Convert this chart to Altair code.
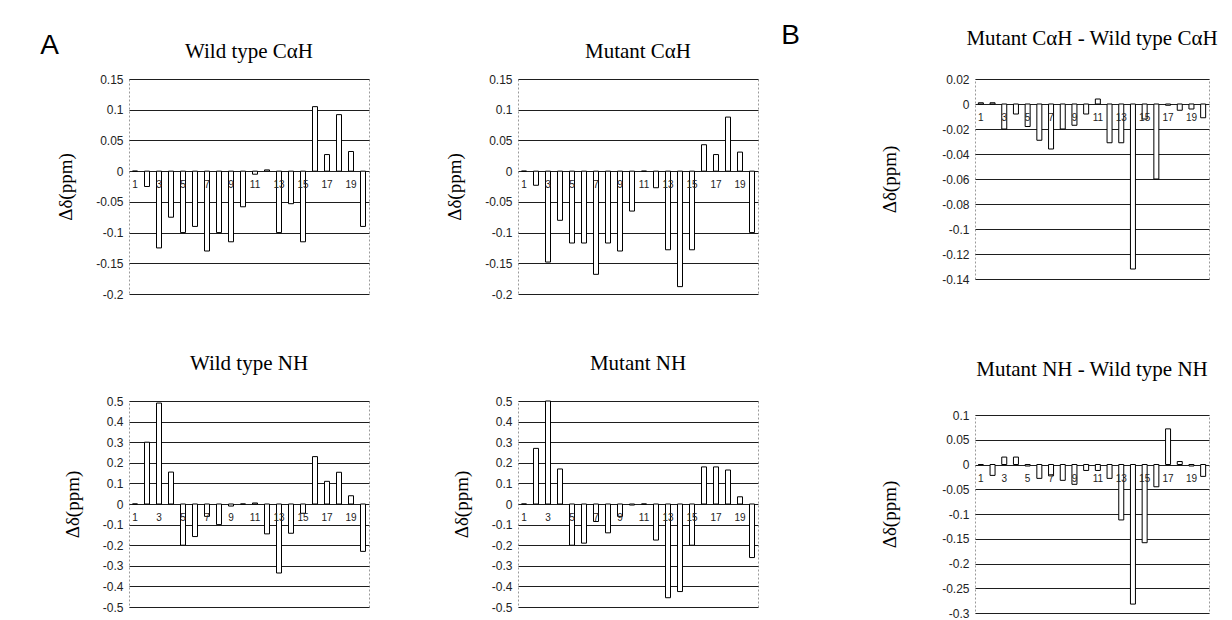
import altair as alt
import pandas as pd

# ---------------- data ----------------
residues = list(range(1, 21))
label_residues = [1, 3, 5, 7, 9, 11, 13, 15, 17, 19]

wt_cah = [0.0, -0.025, -0.125, -0.075, -0.1, -0.09, -0.13, -0.1, -0.115, -0.058,
          -0.005, 0.002, -0.1, -0.053, -0.115, 0.105, 0.027, 0.092, 0.032, -0.09]
mut_cah = [0.0, -0.023, -0.148, -0.08, -0.117, -0.117, -0.168, -0.117, -0.13, -0.065,
           0.0, -0.027, -0.128, -0.188, -0.128, 0.043, 0.027, 0.088, 0.031, -0.1]
diff_cah = [0.001, 0.001, -0.02, -0.008, -0.018, -0.029, -0.036, -0.02, -0.017, -0.008,
            0.004, -0.031, -0.031, -0.132, -0.012, -0.06, -0.001, -0.005, -0.004, -0.011]
wt_nh = [0.0, 0.3, 0.49, 0.155, -0.2, -0.158, -0.06, -0.1, -0.01, 0.0,
         0.005, -0.145, -0.335, -0.142, -0.045, 0.23, 0.11, 0.154, 0.04, -0.23]
mut_nh = [0.0, 0.27, 0.5, 0.17, -0.2, -0.19, -0.085, -0.14, -0.06, -0.005,
          0.0, -0.175, -0.455, -0.425, -0.2, 0.18, 0.18, 0.165, 0.035, -0.26]
diff_nh = [0.0, -0.022, 0.015, 0.015, -0.003, -0.028, -0.023, -0.032, -0.04, -0.012,
           -0.012, -0.028, -0.112, -0.282, -0.158, -0.045, 0.072, 0.006, -0.003, -0.024]

ticks_cah = [0.15, 0.1, 0.05, 0, -0.05, -0.1, -0.15, -0.2]
ticks_nh = [0.5, 0.4, 0.3, 0.2, 0.1, 0, -0.1, -0.2, -0.3, -0.4, -0.5]
ticks_diff_cah = [0.02, 0, -0.02, -0.04, -0.06, -0.08, -0.1, -0.12, -0.14]
ticks_diff_nh = [0.1, 0.05, 0, -0.05, -0.1, -0.15, -0.2, -0.25, -0.3]

y_title = "Δδ(ppm)"
SERIF = "Liberation Serif"
SANS = "Liberation Sans"


def panel(title, values, ticks, width, height, title_offset, title_dy, title_pad):
    df = pd.DataFrame({"res": residues, "shift": values})
    lab = pd.DataFrame({"res": label_residues,
                        "txt": [str(r) for r in label_residues],
                        "zero": [0] * len(label_residues)})
    xsc = alt.Scale(domain=residues, paddingInner=0, paddingOuter=0)
    ysc = alt.Scale(domain=[min(ticks), max(ticks)], nice=False)
    yaxis = alt.Axis(values=ticks, title=y_title, grid=True, ticks=False, tickSize=0,
                     domain=False, labelFont=SANS, labelFontSize=12, labelColor="#222",
                     labelPadding=6,
                     labelExpr="replace(format(datum.value, '~g'), '\u2212', '-')",
                     titleFont=SERIF, titleFontSize=19, titleFontWeight="normal",
                     titleColor="black", titlePadding=title_pad,
                     gridColor="#1e1e1e", gridWidth=1, gridOpacity=1)
    bars = alt.Chart(df).mark_bar(fill="white", stroke="black", strokeWidth=1,
                                  width=5).encode(
        x=alt.X("res:O", scale=xsc, axis=None),
        y=alt.Y("shift:Q", scale=ysc, axis=yaxis),
    )
    labels = alt.Chart(lab).mark_text(font=SANS, fontSize=10, dy=14,
                                      color="#222").encode(
        x=alt.X("res:O", scale=xsc, axis=None),
        y=alt.Y("zero:Q", scale=ysc, axis=yaxis),
        text="txt:N",
    )
    return alt.layer(bars, labels).properties(
        width=width, height=height,
        title=alt.TitleParams(text=title, font=SERIF, fontSize=21,
                              fontWeight="normal", color="black",
                              anchor="middle", frame="group",
                              baseline="bottom", offset=title_offset, dy=title_dy),
    )


p1 = panel("Wild type CαH", wt_cah, ticks_cah, 240, 215, 0, 10, 20)
p2 = panel("Mutant CαH", mut_cah, ticks_cah, 240, 215, 0, 10, 20)
p3 = panel("Mutant CαH - Wild type CαH", diff_cah, ticks_diff_cah, 234, 200, 3, 0, 42)
p4 = panel("Wild type NH", wt_nh, ticks_nh, 240, 206, 0, 0, 20)
p5 = panel("Mutant NH", mut_nh, ticks_nh, 240, 206, 0, 0, 20)
p6 = panel("Mutant NH - Wild type NH", diff_nh, ticks_diff_nh, 234, 198, 8, 0, 42)

col1 = alt.vconcat(p1, p4, spacing=51)
col2 = alt.vconcat(p2, p5, spacing=51)

block_a = alt.hconcat(col1, col2, spacing=75, title=alt.TitleParams(
    text="A", anchor="start", frame="bounds", dx=-16, dy=47, offset=0,
    font=SANS, fontSize=28, fontWeight="normal", color="black", baseline="bottom"))

block_b = alt.vconcat(p3, p6, spacing=72, title=alt.TitleParams(
    text="B", anchor="start", frame="bounds", dx=-99, dy=50, offset=0,
    font=SANS, fontSize=28, fontWeight="normal", color="black", baseline="bottom"))

chart = alt.hconcat(block_a, block_b, spacing=22).properties(
    padding={"left": 32, "top": 13, "right": 5, "bottom": 0},
    background="white",
).configure_view(
    stroke="#9a9a9a", strokeDash=[2, 2], strokeWidth=1
)

chart.save("out.html", embed_options={"renderer": "svg", "actions": False})
